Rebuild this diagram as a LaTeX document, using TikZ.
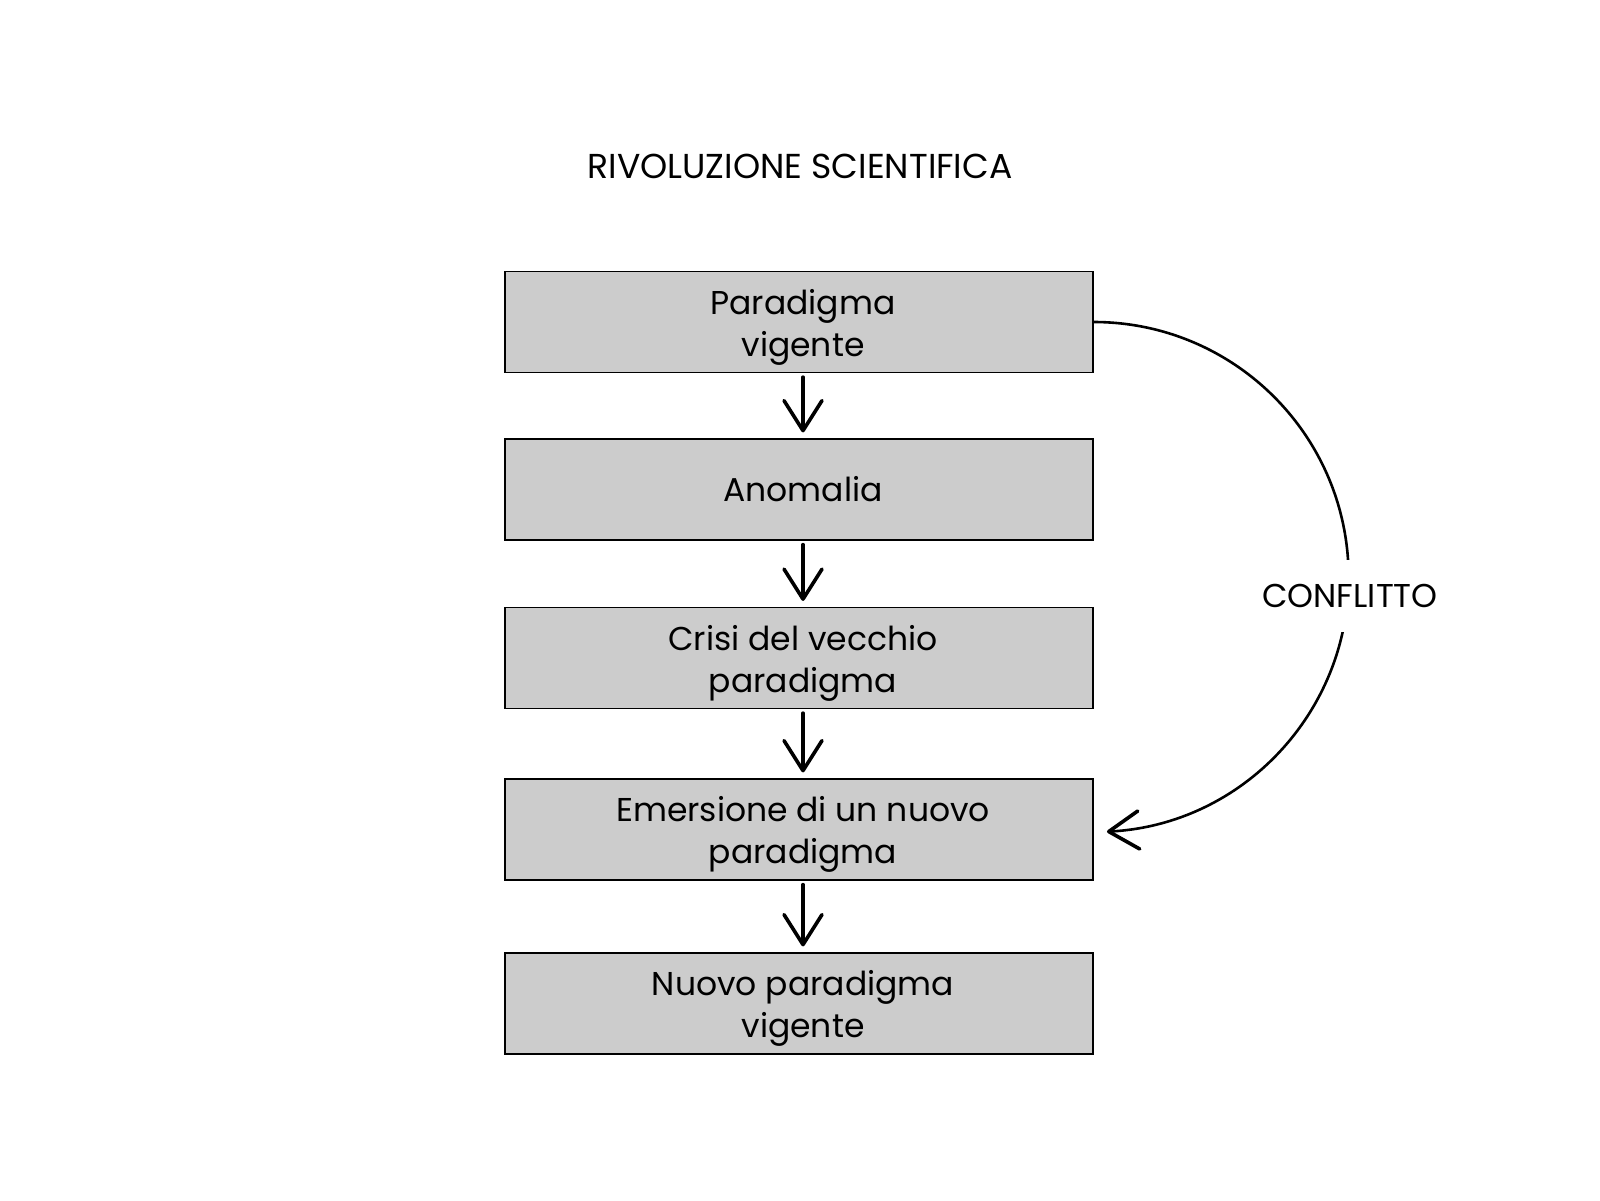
\documentclass[tikz,border=0pt]{standalone}
\usepackage{fontspec}
\setmainfont{Poppins}
\usetikzlibrary{arrows.meta}
\begin{document}
\begin{tikzpicture}[x=0.5pt,y=-0.5pt,
  stepbox/.style={draw=black,line width=0.6pt,fill=boxgray,minimum width=294pt,minimum height=50.5pt,inner sep=0pt},
  boxtext/.style={align=center,inner sep=0pt,font=\fontsize{16.5pt}{21pt}\selectfont},
  handarrow/.style={line width=1.8pt,line cap=round,-{Straight Barb[length=15pt,width=19pt,round]}},
  conflict/.style={line width=1.3pt},
  lbl/.style={font=\fontsize{16.5pt}{21pt}\selectfont,inner sep=0pt}]
\definecolor{boxgray}{HTML}{CCCCCC}
\useasboundingbox[fill=white] (0,0) rectangle (1600,1200);
\node[lbl,font=\fontsize{17.3pt}{21pt}\selectfont] (title) at (800,166) {RIVOLUZIONE SCIENTIFICA};
\node[stepbox] (b1) at (799,322) {};
\node[stepbox] (b2) at (799,489.5) {};
\node[stepbox] (b3) at (799,658) {};
\node[stepbox] (b4) at (799,829.5) {};
\node[stepbox] (b5) at (799,1003.5) {};
\node[boxtext] (t1) at ([xshift=2pt,yshift=-1.5pt]b1.center) {\strut Paradigma\\vigente};
\node[boxtext] (t2) at ([xshift=2pt]b2.center) {Anomalia};
\node[boxtext] (t3) at ([xshift=2pt,yshift=-1.5pt]b3.center) {\strut Crisi del vecchio\\paradigma};
\node[boxtext] (t4) at ([xshift=2pt,yshift=-1.5pt]b4.center) {\strut Emersione di un nuovo\\paradigma};
\node[boxtext] (t5) at ([xshift=2pt,yshift=-1.5pt]b5.center) {\strut Nuovo paradigma\\vigente};
\draw[handarrow] ([xshift=2pt,yshift=-2pt]b1.south) -- ([xshift=2pt,yshift=3pt]b2.north);
\draw[handarrow] ([xshift=2pt,yshift=-2pt]b2.south) -- ([xshift=2pt,yshift=3pt]b3.north);
\draw[handarrow] ([xshift=2pt,yshift=-2pt]b3.south) -- ([xshift=2pt,yshift=3pt]b4.north);
\draw[handarrow] ([xshift=2pt,yshift=-2pt]b4.south) -- ([xshift=2pt,yshift=3pt]b5.north);
\draw[conflict,-{Straight Barb[length=15pt,width=19pt,round,line width=1.8pt]}] (b1.east) arc[start angle=-90,end angle=87,radius=255];
\node[lbl,fill=white,inner xsep=4pt,inner ysep=12pt] (conf) at (1350,596) {CONFLITTO};
\end{tikzpicture}
\end{document}
